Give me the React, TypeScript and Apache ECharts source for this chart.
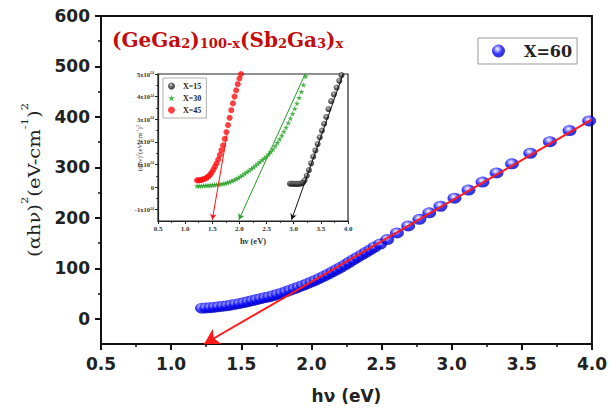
import React, { useEffect, useRef } from 'react';
import * as echarts from 'echarts';

// Main series X=60
const mainX = [1.22, 1.25, 1.28, 1.31, 1.34, 1.37, 1.40, 1.43, 1.46, 1.49, 1.52, 1.55, 1.58, 1.61, 1.64, 1.67, 1.70, 1.73, 1.76, 1.79, 1.82, 1.85, 1.88, 1.91, 1.94, 1.97, 2.00, 2.03, 2.06, 2.09, 2.12, 2.15, 2.18, 2.21, 2.24, 2.27, 2.30, 2.33, 2.36, 2.39, 2.42, 2.45, 2.49, 2.54, 2.61, 2.69, 2.77, 2.84, 2.92, 3.02, 3.12, 3.22, 3.32, 3.43, 3.56, 3.70, 3.84, 3.98];
const mainY = [21, 21.5, 22, 23, 24, 25, 26, 27.5, 29, 30.5, 32, 34, 36, 38, 40, 42, 43.5, 46, 48.5, 51, 54, 57, 60, 63, 66, 69.5, 73, 76.5, 80.5, 84.5, 88.5, 93, 97.5, 102, 107, 112, 117, 122, 127, 132, 137, 142, 148, 157, 170, 184, 197, 210, 223, 239, 255, 271, 289, 307, 328, 351, 373, 392];
const mainFit = [[4.0, 395], [1.235, -50]];

// Inset series
const x15 = [2.93, 2.96, 2.99, 3.02, 3.05, 3.08, 3.11, 3.14, 3.17, 3.20, 3.24, 3.28, 3.32, 3.36, 3.40, 3.44, 3.48, 3.52, 3.56, 3.60, 3.64, 3.69, 3.74, 3.79, 3.84, 3.88];
const y15 = [0.15, 0.15, 0.15, 0.14, 0.15, 0.14, 0.15, 0.16, 0.20, 0.30, 0.50, 0.75, 1.05, 1.35, 1.62, 1.90, 2.20, 2.50, 2.80, 3.10, 3.45, 3.80, 4.10, 4.40, 4.70, 4.95];
const x30 = [1.22, 1.26, 1.30, 1.34, 1.38, 1.42, 1.46, 1.50, 1.54, 1.58, 1.62, 1.66, 1.70, 1.74, 1.78, 1.82, 1.86, 1.90, 1.94, 1.98, 2.02, 2.06, 2.10, 2.14, 2.18, 2.22, 2.26, 2.30, 2.34, 2.38, 2.42, 2.46, 2.50, 2.54, 2.58, 2.62, 2.66, 2.70, 2.74, 2.78, 2.82, 2.86, 2.90, 2.94, 2.98, 3.02, 3.06, 3.10, 3.14, 3.18, 3.22];
const y30 = [0.05, 0.05, 0.06, 0.06, 0.07, 0.07, 0.08, 0.09, 0.10, 0.11, 0.12, 0.14, 0.15, 0.17, 0.20, 0.23, 0.27, 0.31, 0.36, 0.41, 0.47, 0.53, 0.60, 0.67, 0.74, 0.81, 0.88, 0.96, 1.04, 1.12, 1.20, 1.28, 1.36, 1.45, 1.56, 1.68, 1.82, 1.96, 2.12, 2.28, 2.46, 2.64, 2.84, 3.04, 3.25, 3.47, 3.70, 3.95, 4.22, 4.52, 4.90];
const x45 = [1.22, 1.25, 1.28, 1.31, 1.34, 1.37, 1.40, 1.43, 1.46, 1.49, 1.52, 1.55, 1.58, 1.61, 1.64, 1.67, 1.70, 1.73, 1.76, 1.79, 1.82, 1.85, 1.88, 1.91, 1.94, 1.97, 2.00, 2.03];
const y45 = [0.30, 0.30, 0.31, 0.33, 0.35, 0.38, 0.42, 0.47, 0.55, 0.65, 0.77, 0.90, 1.05, 1.22, 1.42, 1.63, 1.85, 2.13, 2.43, 2.74, 3.06, 3.40, 3.70, 4.00, 4.28, 4.55, 4.80, 5.00];
const fit15 = [[3.91, 5.0], [2.96, -1.45]];
const fit30 = [[3.21, 5.0], [1.99, -1.45]];
const fit45 = [[1.77, 2.3], [1.50, -1.45]];

const mainYLabels = [0, 100, 200, 300, 400, 500, 600];
const mainYMinor = [50, 150, 250, 350, 450, 550];
const insetYLabels = [-1, 0, 1, 2, 3, 4, 5];
const insetYMinor = [-0.5, 0.5, 1.5, 2.5, 3.5, 4.5];

const zip = (xs: number[], ys: number[]) => xs.map((x, i) => [x, ys[i]]);

const ELLIPSE = 'path://M0,5 A5,5 0 1 1 10,5 A5,5 0 1 1 0,5 Z';
const STAR = 'path://M50,0 L61,35 L98,35 L68,57 L79,91 L50,70 L21,91 L32,57 L2,35 L39,35 Z';

export default function App() {
  const ref = useRef<HTMLDivElement>(null);
  useEffect(() => {
    const chart = echarts.init(ref.current!, null, { renderer: 'svg' });
    const blueGrad = new echarts.graphic.RadialGradient(0.42, 0.35, 0.65, [
      { offset: 0, color: '#ffffff' },
      { offset: 0.25, color: '#9090ff' },
      { offset: 0.55, color: '#0a0aff' },
      { offset: 1, color: '#0000b8' },
    ]);
    const blackGrad = new echarts.graphic.RadialGradient(0.42, 0.35, 0.65, [
      { offset: 0, color: '#dddddd' },
      { offset: 0.35, color: '#555555' },
      { offset: 1, color: '#000000' },
    ]);
    const sans = 'DejaVu Sans';
    const serif = 'DejaVu Serif';
    const insetFont = 'Liberation Serif';

    const fitLine = (c: number[][], color: string, width: number, size: number[]) => ({
      silent: true,
      symbol: ['none', 'arrow'],
      symbolSize: size,
      label: { show: false },
      lineStyle: { color, width, type: 'solid' },
      emphasis: { disabled: true },
      data: [[{ coord: c[0] }, { coord: c[1] }]],
    });

    const option: any = {
      animation: false,
      backgroundColor: '#ffffff',
      grid: [
        { left: 101, top: 16, width: 495, height: 332, show: true, borderColor: '#111', borderWidth: 2, backgroundColor: 'transparent' },
        { left: 158, top: 74, width: 190, height: 147, show: true, borderColor: '#222', borderWidth: 1.2, backgroundColor: '#ffffff' },
      ],
      legend: [
        {
          left: 478, top: 38, orient: 'horizontal',
          padding: [5, 5, 5, 14],
          borderColor: '#999', borderWidth: 1, backgroundColor: '#fff',
          itemWidth: 17, itemHeight: 13,
          textStyle: { fontFamily: serif, fontWeight: 'bold', fontSize: 16, color: '#222', padding: [0, 0, 0, 12] },
          data: [{ name: 'X=60', icon: ELLIPSE, itemStyle: { color: blueGrad } }],
        },
        {
          left: 163, top: 78, orient: 'vertical',
          padding: [4, 5, 4, 5], itemGap: 4,
          borderColor: '#999', borderWidth: 0.8, backgroundColor: '#fff',
          itemWidth: 7, itemHeight: 7,
          textStyle: { fontFamily: insetFont, fontWeight: 'bold', fontSize: 8, color: '#222', padding: [0, 0, 0, 3] },
          data: [
            { name: 'X=15', icon: 'circle', itemStyle: { color: blackGrad } },
            { name: 'X=30', icon: STAR, itemStyle: { color: '#22a022' } },
            { name: 'X=45', icon: 'circle', itemStyle: { color: '#ff1010' } },
          ],
        },
      ],
      xAxis: [
        {
          gridIndex: 0, type: 'value', min: 0.5, max: 4.0, interval: 0.5,
          name: 'hν (eV)', nameLocation: 'middle', nameGap: 43,
          nameTextStyle: { fontFamily: sans, fontWeight: 'bold', fontSize: 17, color: '#222' },
          axisLine: { show: true, onZero: false, lineStyle: { color: '#111', width: 2 } },
          axisTick: { show: true, inside: false, length: 6, lineStyle: { color: '#111', width: 2 } },
          minorTick: { show: true, splitNumber: 2, length: 3, lineStyle: { color: '#111', width: 1.5 } },
          axisLabel: { margin: 11, fontFamily: sans, fontWeight: 'bold', fontSize: 17, color: '#222', formatter: (v: number) => v.toFixed(1) },
          splitLine: { show: false },
        },
        {
          gridIndex: 1, type: 'value', min: 0.5, max: 4.0, interval: 0.5,
          name: 'hν (eV)', nameLocation: 'middle', nameGap: 15,
          nameTextStyle: { fontFamily: insetFont, fontWeight: 'bold', fontSize: 8.5, color: '#333' },
          axisLine: { show: true, onZero: false, lineStyle: { color: '#222', width: 1.2 } },
          axisTick: { show: true, inside: false, length: 3, lineStyle: { color: '#222', width: 1 } },
          minorTick: { show: true, splitNumber: 2, length: 2, lineStyle: { color: '#222', width: 0.8 } },
          axisLabel: { margin: 4, fontFamily: insetFont, fontWeight: 'bold', fontSize: 7, color: '#333', formatter: (v: number) => v.toFixed(1) },
          splitLine: { show: false },
        },
      ],
      yAxis: [
        {
          gridIndex: 0, type: 'value', position: 'left', min: -50, max: 600, interval: 50,
          axisLine: { show: true, onZero: false, lineStyle: { color: '#111', width: 2 } },
          axisTick: { show: true, length: 6, customValues: mainYLabels, lineStyle: { color: '#111', width: 2 } },
          axisLabel: { margin: 11, customValues: mainYLabels, fontFamily: sans, fontWeight: 'bold', fontSize: 17, color: '#222' },
          splitLine: { show: false },
        },
        {
          gridIndex: 0, type: 'value', position: 'left', offset: 0, min: -50, max: 600, interval: 50,
          axisLine: { show: false, onZero: false },
          axisTick: { show: true, length: 3, customValues: mainYMinor, lineStyle: { color: '#111', width: 1.5 } },
          axisLabel: { show: false },
          splitLine: { show: false },
        },
        {
          gridIndex: 1, type: 'value', position: 'left', min: -1.5, max: 5, interval: 0.5,
          axisLine: { show: true, onZero: false, lineStyle: { color: '#222', width: 1.2 } },
          axisTick: { show: true, length: 3, customValues: insetYLabels, lineStyle: { color: '#222', width: 1 } },
          axisLabel: {
            margin: 4, customValues: insetYLabels, fontFamily: insetFont, fontWeight: 'bold', fontSize: 6.5, color: '#333',
            formatter: (v: number) => (v === 0 ? '0' : `${v}x10{s|24}`),
            rich: { s: { fontSize: 4, fontFamily: insetFont, verticalAlign: 'top', lineHeight: 6, color: '#333' } },
          },
          splitLine: { show: false },
        },
        {
          gridIndex: 1, type: 'value', position: 'left', offset: 0, min: -1.5, max: 5, interval: 0.5,
          axisLine: { show: false, onZero: false },
          axisTick: { show: true, length: 2, customValues: insetYMinor, lineStyle: { color: '#222', width: 0.8 } },
          axisLabel: { show: false },
          splitLine: { show: false },
        },
      ],
      series: [
        {
          name: 'X=60', type: 'scatter', xAxisIndex: 0, yAxisIndex: 0,
          symbol: ELLIPSE, symbolSize: [14, 11],
          itemStyle: { color: blueGrad },
          data: zip(mainX, mainY),
          z: 3,
          markLine: { ...fitLine(mainFit, '#ff1a1a', 2, [13, 15]), z: 5 },
        },
        {
          name: 'X=15', type: 'scatter', xAxisIndex: 1, yAxisIndex: 2,
          symbol: 'circle', symbolSize: 6,
          itemStyle: { color: blackGrad },
          data: zip(x15, y15),
          markLine: fitLine(fit15, '#111', 1, [5, 6]),
        },
        {
          name: 'X=30', type: 'scatter', xAxisIndex: 1, yAxisIndex: 2,
          symbol: STAR, symbolSize: 6,
          itemStyle: { color: '#22a022' },
          data: zip(x30, y30),
          markLine: fitLine(fit30, '#22a022', 1, [5, 6]),
        },
        {
          name: 'X=45', type: 'scatter', xAxisIndex: 1, yAxisIndex: 2,
          symbol: 'circle', symbolSize: 6,
          itemStyle: { color: '#ff1010' },
          data: zip(x45, y45),
          markLine: fitLine(fit45, '#ff1010', 1, [5, 6]),
        },
      ],
      graphic: [
        {
          type: 'text', left: 112, top: 30,
          style: {
            text: '{m|(GeGa}{s|2}{m|)}{s|100-x}{m|(Sb}{s|2}{m|Ga}{s|3}{m|)}{s|x}',
            rich: {
              m: { fontFamily: serif, fontWeight: 'bold', fontSize: 20, lineHeight: 24, verticalAlign: 'bottom', fill: '#c40c0c' },
              s: { fontFamily: serif, fontWeight: 'bold', fontSize: 13, lineHeight: 10, verticalAlign: 'bottom', fill: '#c40c0c' },
            },
          },
        },
        {
          type: 'text', x: 31, y: 180, rotation: Math.PI / 2, scaleX: 1.15,
          style: {
            text: '{m|(αhν)}{p|2}{m|(eV-cm}{p|-1}{m|)}{p|2}',
            align: 'center', verticalAlign: 'middle',
            rich: {
              m: { fontFamily: serif, fontSize: 17, lineHeight: 22, verticalAlign: 'bottom', fill: '#222' },
              p: { fontFamily: serif, fontSize: 10, lineHeight: 12, verticalAlign: 'top', fill: '#222' },
            },
          },
        },
        {
          type: 'text', x: 139, y: 148, rotation: Math.PI / 2,
          style: {
            text: '{m|(αhν)}{p|2}{m|(eV-cm}{p|-1}{m|)}{p|2}',
            align: 'center', verticalAlign: 'middle',
            rich: {
              m: { fontFamily: insetFont, fontSize: 7, lineHeight: 9, verticalAlign: 'bottom', fill: '#333' },
              p: { fontFamily: insetFont, fontSize: 4.5, lineHeight: 5, verticalAlign: 'top', fill: '#333' },
            },
          },
        },
      ],
    };
    chart.setOption(option);
    return () => chart.dispose();
  }, []);
  return <div ref={ref} style={{ position: 'absolute', left: 0, top: 0, width: 610, height: 409 }} />;
}
